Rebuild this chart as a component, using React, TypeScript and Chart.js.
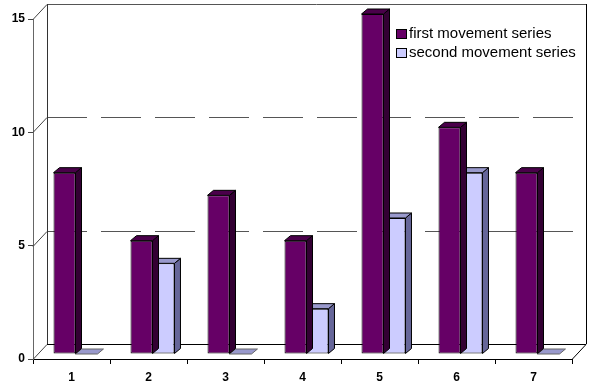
import { useEffect, useRef } from "react";
import { Chart, registerables } from "chart.js";

Chart.register(...registerables);

// Chart values
const categories = ["1", "2", "3", "4", "5", "6", "7"];
const firstMovement = [8, 5, 7, 5, 15, 10, 8];
const secondMovement = [0, 4, 0, 2, 6, 8, 0];
const seriesNames = ["first movement series", "second movement series"];
const valueTicks = [0, 5, 10, 15];

// Face colours for the pseudo-3D columns: [front, top, side]
const FACES = [
  ["#660066", "#4a004a", "#330033"],
  ["#ccccff", "#9999cc", "#666699"],
];

// Depth offsets (px) for the walls and the columns
const WALL_DX = 14;
const WALL_DY = 15;
const BAR_DX = 4;
const BAR_DY = 5;
const SIDE_DX = 6;
const SIDE_DY = 5;

const FONT = "'Liberation Sans', Arial, Helvetica, sans-serif";

const crisp = (v: number) => Math.round(v) + 0.5;

const box3d = {
  id: "box3d",
  beforeDatasetsDraw(chart: any) {
    const { ctx, chartArea } = chart;
    const { left, right, bottom } = chartArea;
    const y = chart.scales.y;
    ctx.save();
    ctx.lineWidth = 1;
    // side wall diagonals and back wall gridlines
    valueTicks.forEach((v) => {
      const py = y.getPixelForValue(v);
      ctx.strokeStyle = "#444";
      ctx.setLineDash([]);
      ctx.beginPath();
      ctx.moveTo(left, crisp(py));
      ctx.lineTo(left + WALL_DX, crisp(py - WALL_DY));
      ctx.stroke();
      const by = crisp(py - WALL_DY);
      if (v === 0) {
        ctx.strokeStyle = "#000";
      } else if (v === valueTicks[valueTicks.length - 1]) {
        ctx.strokeStyle = "#555";
      } else {
        ctx.strokeStyle = "#555";
        ctx.setLineDash([40, 14]);
      }
      ctx.beginPath();
      ctx.moveTo(left + WALL_DX, by);
      ctx.lineTo(right + WALL_DX, by);
      ctx.stroke();
    });
    ctx.setLineDash([]);
    const topY = y.getPixelForValue(valueTicks[valueTicks.length - 1]) - WALL_DY;
    const floorY = bottom - WALL_DY;
    // back wall vertical edges
    ctx.strokeStyle = "#333";
    ctx.beginPath();
    ctx.moveTo(crisp(left + WALL_DX), topY);
    ctx.lineTo(crisp(left + WALL_DX), floorY);
    ctx.stroke();
    ctx.strokeStyle = "#000";
    ctx.beginPath();
    ctx.moveTo(crisp(right + WALL_DX), topY);
    ctx.lineTo(crisp(right + WALL_DX), floorY);
    ctx.stroke();
    // floor right edge
    ctx.beginPath();
    ctx.moveTo(right, crisp(bottom));
    ctx.lineTo(right + WALL_DX, crisp(floorY));
    ctx.stroke();
    ctx.restore();

    // columns sit a little behind the front plane
    ctx.save();
    ctx.translate(BAR_DX, -BAR_DY);
  },
  afterDatasetDraw(chart: any, args: any) {
    const { ctx } = chart;
    const meta = args.meta;
    const [, topColor, sideColor] = FACES[args.index];
    ctx.save();
    ctx.lineWidth = 1;
    ctx.strokeStyle = "#000";
    meta.data.forEach((el: any) => {
      const { x, y, base, width } = el.getProps(["x", "y", "base", "width"], true);
      const l = x - width / 2;
      const r = x + width / 2;
      const t = Math.min(y, base);
      const b = Math.max(y, base);
      if (b - t >= 1) {
        ctx.fillStyle = sideColor;
        ctx.beginPath();
        ctx.moveTo(r, t);
        ctx.lineTo(r + SIDE_DX, t - SIDE_DY);
        ctx.lineTo(r + SIDE_DX, b - SIDE_DY);
        ctx.lineTo(r, b);
        ctx.closePath();
        ctx.fill();
        ctx.stroke();
      }
      ctx.fillStyle = topColor;
      ctx.strokeStyle = b - t >= 1 ? "#000" : "#666";
      ctx.beginPath();
      ctx.moveTo(l, t);
      ctx.lineTo(l + SIDE_DX, t - SIDE_DY);
      ctx.lineTo(r + SIDE_DX, t - SIDE_DY);
      ctx.lineTo(r, t);
      ctx.closePath();
      ctx.fill();
      ctx.stroke();
      ctx.strokeStyle = "#000";
    });
    ctx.restore();
  },
  afterDatasetsDraw(chart: any) {
    chart.ctx.restore();
  },
  afterDraw(chart: any) {
    // legend inside the plot, upper right
    const { ctx, chartArea } = chart;
    const x0 = chartArea.right - 176;
    const rows = [33, 52];
    ctx.save();
    ctx.font = `15px ${FONT}`;
    ctx.textBaseline = "middle";
    ctx.textAlign = "left";
    seriesNames.forEach((name, i) => {
      const cy = rows[i];
      ctx.fillStyle = FACES[i][0];
      ctx.fillRect(x0, cy - 4, 10, 9);
      ctx.strokeStyle = "#000";
      ctx.lineWidth = 1;
      ctx.strokeRect(x0 + 0.5, cy - 4 + 0.5, 10, 9);
      ctx.fillStyle = "#000";
      ctx.fillText(name, x0 + 13, cy + 1);
    });
    ctx.restore();
  },
};

export default function App() {
  const canvasRef = useRef<HTMLCanvasElement | null>(null);

  useEffect(() => {
    if (!canvasRef.current) return;
    const chart = new Chart(canvasRef.current, {
      type: "bar",
      data: {
        labels: categories,
        datasets: [
          {
            label: seriesNames[0],
            data: firstMovement,
            backgroundColor: FACES[0][0],
            borderColor: "#000",
            borderWidth: 1,
            borderSkipped: false,
          },
          {
            label: seriesNames[1],
            data: secondMovement,
            backgroundColor: FACES[1][0],
            borderColor: "#000",
            borderWidth: 1,
            borderSkipped: false,
          },
        ],
      },
      options: {
        responsive: false,
        animation: false,
        devicePixelRatio: 1,
        events: [],
        layout: { padding: { top: 19, right: 18, left: 0, bottom: 0 } },
        datasets: {
          bar: {
            categoryPercentage: 0.571,
            barPercentage: 1,
            clip: false as any,
          },
        },
        plugins: {
          legend: { display: false },
          tooltip: { enabled: false },
        },
        scales: {
          x: {
            afterFit: (scale: any) => {
              scale.height = 28;
            },
            grid: {
              offset: true,
              drawOnChartArea: false,
              drawTicks: true,
              tickLength: 5,
              color: "#000",
            },
            border: { display: true, color: "#000" },
            ticks: {
              color: "#000",
              padding: 6,
              font: { family: FONT, size: 12, weight: "bold" },
            },
          },
          y: {
            min: 0,
            max: 15,
            afterFit: (scale: any) => {
              scale.width = 33;
            },
            afterBuildTicks: (scale: any) => {
              scale.ticks = valueTicks.map((v) => ({ value: v }));
            },
            grid: {
              drawOnChartArea: false,
              drawTicks: true,
              tickLength: 5,
              color: "#444",
            },
            border: { display: true, color: "#666" },
            ticks: {
              color: "#000",
              padding: 3,
              font: { family: FONT, size: 12, weight: "bold" },
            },
          },
        },
      },
      plugins: [box3d],
    });
    return () => chart.destroy();
  }, []);

  return (
    <div style={{ position: "absolute", left: 0, top: 0, width: 590, height: 387, background: "#fff" }}>
      <canvas ref={canvasRef} width={590} height={387} />
    </div>
  );
}
